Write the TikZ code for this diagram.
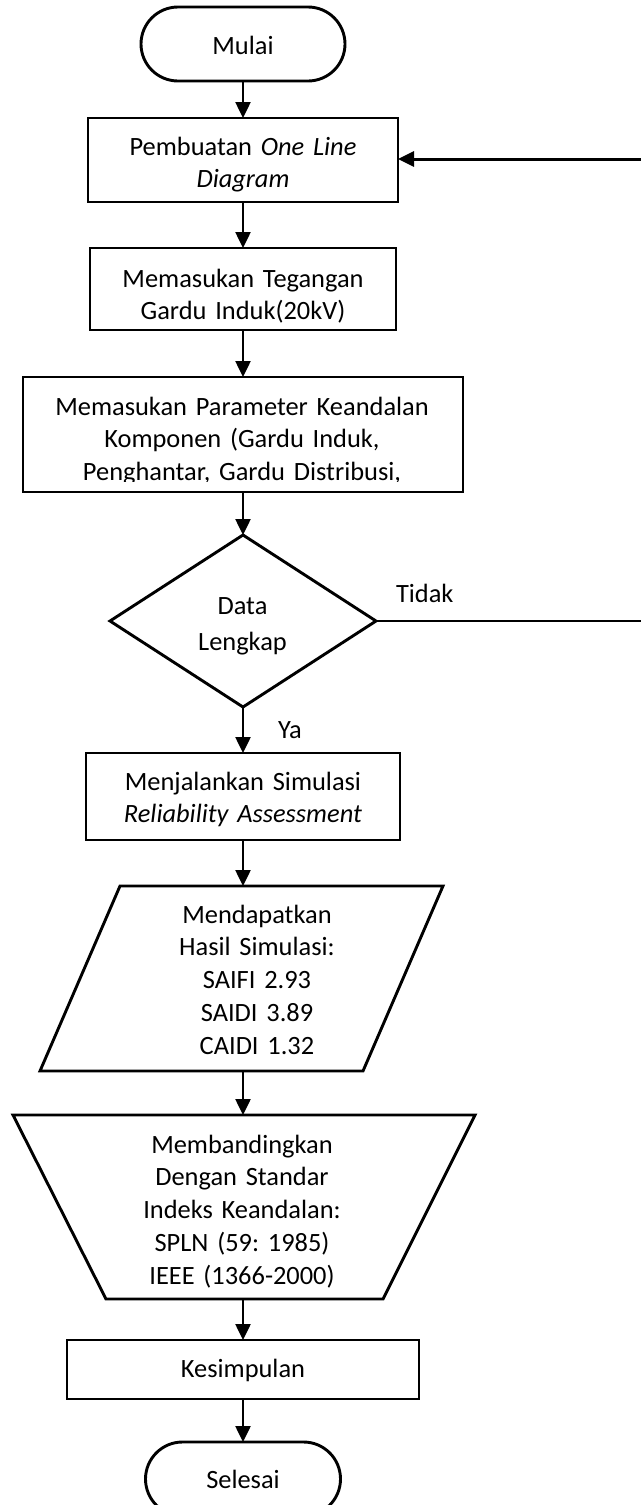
\documentclass[tikz,border=0pt]{standalone}
\usepackage{fontspec}
\setmainfont{Carlito}
\usetikzlibrary{arrows.meta}
\frenchspacing
\begin{document}
\begin{tikzpicture}[x=0.5pt,y=-0.5pt,
  font=\fontsize{13.2pt}{16.4pt}\selectfont,
  shapebox/.style={draw, line width=1.45pt, inner sep=0pt, outer sep=0pt, rectangle},
  term/.style={shapebox, rounded corners=18.5pt},
  ghost/.style={inner sep=0pt, outer sep=0pt, rectangle},
  outline/.style={line width=1.45pt, line join=miter},
  txt/.style={inner sep=0pt, outer sep=0pt, align=center, text width=#1, anchor=base},
  txt/.default=235pt,
  flow/.style={line width=1.25pt, -{Triangle[width=7.5pt,length=8pt]}},
  thinline/.style={line width=0.75pt},
  lbl/.style={inner sep=0pt, outer sep=0pt, anchor=base west},
]
\useasboundingbox (0,0) rectangle (641,1505);
\fill[white] (0,0) rectangle (641,1505);
\clip (0,0) rectangle (641,1505);

% ---------- shapes ----------
\node[term, minimum width=102pt, minimum height=37pt] (m) at (243,44) {};
\node[shapebox, minimum width=155pt, minimum height=42pt] (b1) at (243,160) {};
\node[shapebox, minimum width=153pt, minimum height=41pt] (b2) at (243,289) {};
\node[shapebox, minimum width=220pt, minimum height=57.5pt] (b3) at (243,434.5) {};
\node[ghost, minimum width=133pt, minimum height=86pt] (d) at (243,621) {};
\draw[outline] (d.north) -- (d.east) -- (d.south) -- (d.west) -- cycle;
\node[shapebox, minimum width=157pt, minimum height=43.5pt] (b4) at (243,796.5) {};
\node[ghost, minimum width=201.5pt, minimum height=92.5pt] (p) at (241.5,978.5) {};
\draw[outline] ([xshift=40pt]p.north west) -- (p.north east) -- ([xshift=-40pt]p.south east) -- (p.south west) -- cycle;
\node[ghost, minimum width=231pt, minimum height=92pt] (z) at (244,1207) {};
\draw[outline] (z.north west) -- (z.north east) -- ([xshift=-46pt]z.south east) -- ([xshift=46.5pt]z.south west) -- cycle;
\node[shapebox, minimum width=176pt, minimum height=29.5pt] (b5) at (243,1369.5) {};
\node[term, minimum width=97.5pt, minimum height=37pt] (s) at (243,1479) {};

% ---------- texts ----------
\node[txt] (tm) at (243,54) {Mulai};
\begin{scope}
  \clip (b1.north west) rectangle ([yshift=5pt]b1.south east);
  \node[txt] (t1) at (243,155) {Pembuatan \textit{One Line}\\\textit{Diagram}};
\end{scope}
\node[txt] (t2) at (243,287) {Memasukan Tegangan\\Gardu Induk(20kV)};
\begin{scope}
  \clip (b3.north west) rectangle ([yshift=5.25pt]b3.south east);
  \node[txt] (t3) at (242,415) {Memasukan Parameter Keandalan\\Komponen (Gardu Induk,\\Penghantar, Gardu Distribusi,};
\end{scope}
\node[txt, font=\fontsize{13.2pt}{18pt}\selectfont] (td) at (242.5,614) {Data\\Lengkap};
\node[txt] (t4) at (243,790) {Menjalankan Simulasi\\\textit{Reliability Assessment}};
\node[txt] (tp) at (257,923) {Mendapatkan\\Hasil Simulasi:\\SAIFI 2.93\\SAIDI 3.89\\CAIDI 1.32};
\node[txt] (tz) at (242,1153) {Membandingkan\\Dengan Standar\\Indeks Keandalan:\\SPLN (59: 1985)\\IEEE (1366-2000)};
\node[txt] (t5) at (243,1377) {Kesimpulan};
\node[txt] (ts) at (243,1488) {Selesai};
\node[lbl] (tidak) at (396,602) {Tidak};
\node[lbl] (ya) at (278,738) {Ya};

% ---------- connectors ----------
\coordinate (fb) at (660,159);
\coordinate (nr) at (660,621);
\draw[flow] (m.south) -- (m.south |- b1.north);
\draw[flow] (b1.south) -- (b1.south |- b2.north);
\draw[flow] (b2.south) -- (b2.south |- b3.north);
\draw[flow] (b3.south) -- (b3.south |- d.north);
\draw[flow] (d.south) -- (d.south |- b4.north);
\draw[flow] (b4.south) -- (b4.south |- p.north);
\draw[flow] (b4.south |- p.south) -- (b4.south |- z.north);
\draw[flow] (b4.south |- z.south) -- (b4.south |- b5.north);
\draw[flow] (b5.south) -- (b5.south |- s.north);
\draw[flow, line width=1.5pt] (fb) -- (fb -| b1.east);
\draw[thinline] (d.east) -- (nr);
\end{tikzpicture}
\end{document}
